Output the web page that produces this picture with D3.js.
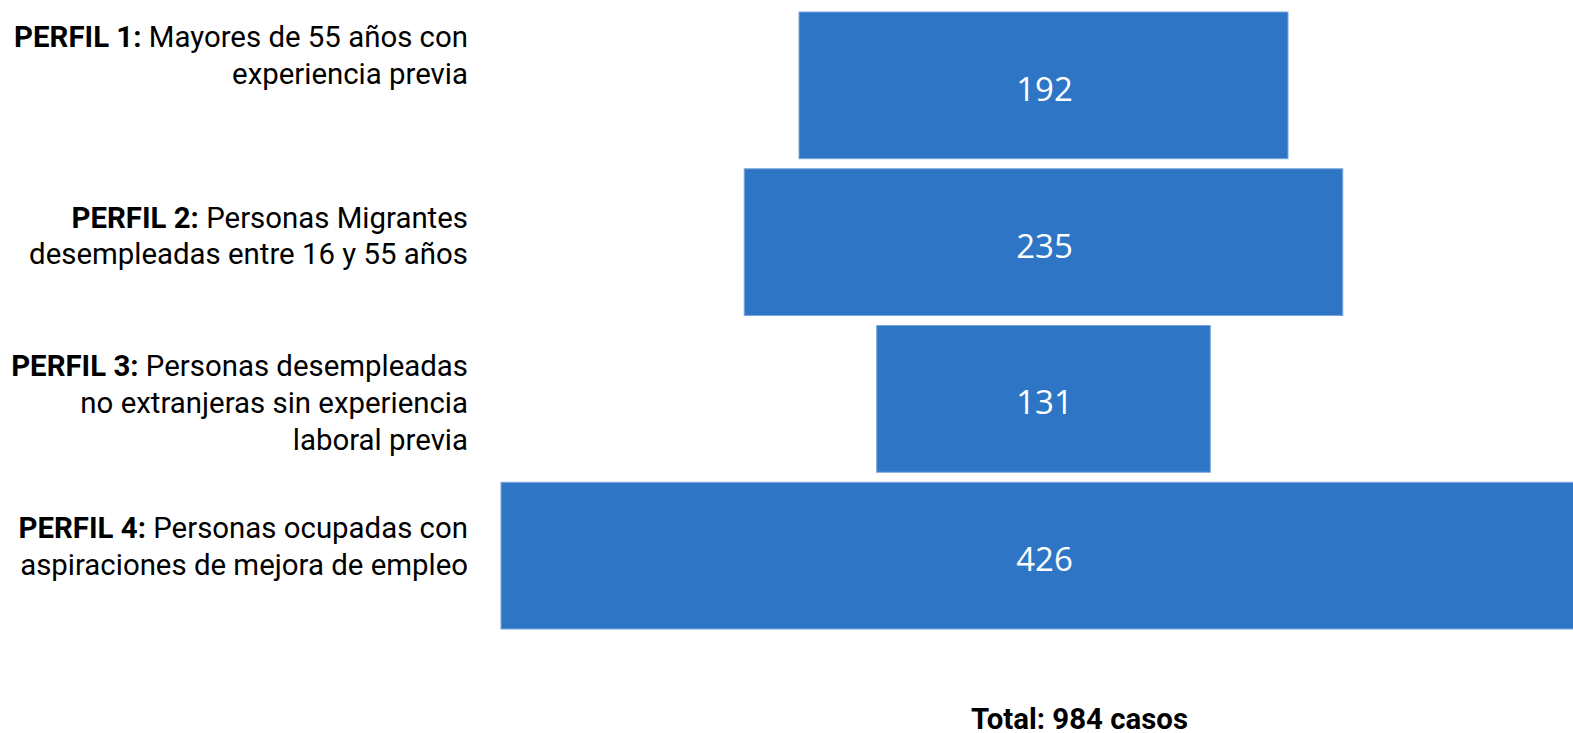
<!DOCTYPE html>
<html>
<head>
<meta charset="utf-8">
<script src="https://cdn.jsdelivr.net/npm/d3@7"></script>
<style>
  html, body { margin: 0; padding: 0; background: #fff; }
  svg { display: block; }
</style>
</head>
<body>
<svg id="chart" width="1573" height="733"></svg>
<script>
const categories = ["PERFIL 1", "PERFIL 2", "PERFIL 3", "PERFIL 4"];
const values = [192, 235, 131, 426];
const boldLabels = ["PERFIL 1:", "PERFIL 2:", "PERFIL 3:", "PERFIL 4:"];
const labelLines = [
  [" Mayores de 55 años con", "experiencia previa"],
  [" Personas Migrantes", "desempleadas entre 16 y 55 años"],
  [" Personas desempleadas", "no extranjeras sin experiencia", "laboral previa"],
  [" Personas ocupadas con", "aspiraciones de mejora de empleo"]
];
const totalLabel = "Total: 984 casos";

const svg = d3.select("#chart");
const centerX = 1043.5;
const labelRight = 468;
const lineH = 36.7;
const labelOffsets = [-30, -6, 4, -9];

const y = d3.scaleBand().domain(categories).range([12, 629]).paddingInner(0.064);
const w = d3.scaleLinear().domain([0, 426]).range([0, 1085]);

const g = svg.append("g");
g.selectAll("rect").data(categories).join("rect")
  .attr("x", (d, i) => centerX - w(values[i]) / 2)
  .attr("y", d => y(d))
  .attr("width", (d, i) => w(values[i]))
  .attr("height", y.bandwidth())
  .attr("fill", "#2E75C6")
  .attr("stroke", "#7AA8DE")
  .attr("stroke-width", 1);

g.selectAll("text.val").data(categories).join("text")
  .attr("class", "val")
  .attr("x", centerX + 1)
  .attr("y", d => y(d) + y.bandwidth() / 2 + 3.5)
  .attr("dy", "0.36em")
  .attr("text-anchor", "middle")
  .attr("fill", "#fff")
  .style("font-family", "'Open Sans', sans-serif")
  .style("font-size", "33px")
  .text((d, i) => values[i]);

categories.forEach((c, i) => {
  const lines = labelLines[i];
  const n = lines.length;
  const cy = y(c) + y.bandwidth() / 2;
  const first = cy - (n - 1) / 2 * lineH + 10 + labelOffsets[i];
  const t = svg.append("text")
    .attr("text-anchor", "end")
    .attr("fill", "#000")
    .style("font-family", "Roboto, sans-serif")
    .style("font-size", "29.4px");
  lines.forEach((ln, j) => {
    if (j === 0) {
      const l0 = t.append("tspan").attr("x", labelRight).attr("y", first);
      l0.append("tspan").style("font-weight", "bold").text(boldLabels[i]);
      l0.append("tspan").attr("xml:space", "preserve").style("white-space", "pre").text(ln);
    } else {
      t.append("tspan").attr("x", labelRight).attr("y", first + j * lineH).text(ln);
    }
  });
});

svg.append("text")
  .attr("x", 1079.5)
  .attr("y", 729)
  .attr("text-anchor", "middle")
  .style("font-family", "Roboto, sans-serif")
  .style("font-size", "29.4px")
  .style("font-weight", "bold")
  .attr("fill", "#000")
  .text(totalLabel);
</script>
</body>
</html>
